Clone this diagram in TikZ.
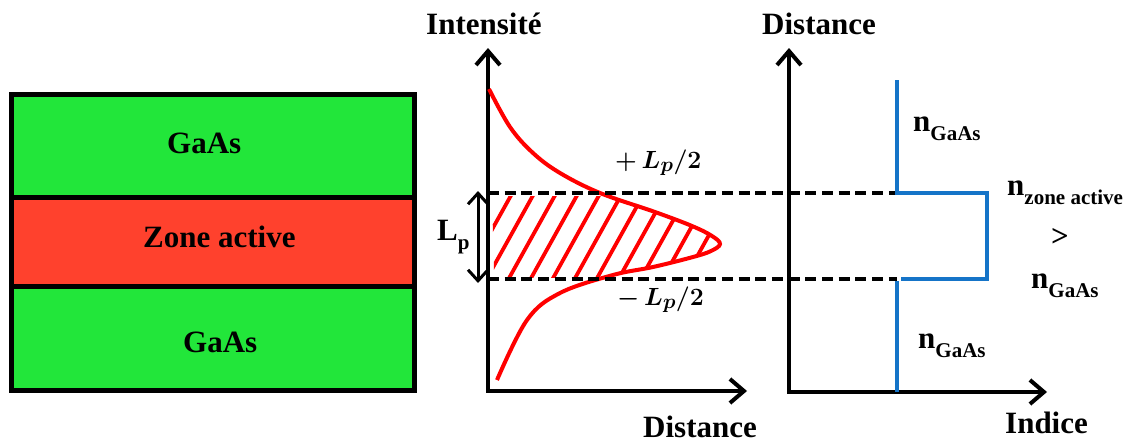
\documentclass[tikz,border=0pt]{standalone}
\usepackage{fontspec}
\setmainfont{Liberation Serif}
\usepackage{amsmath}
\usetikzlibrary{arrows.meta}
\definecolor{gaasgreen}{HTML}{22E63A}
\definecolor{activered}{HTML}{FF412D}
\definecolor{curvered}{HTML}{FF0000}
\definecolor{indexblue}{HTML}{1574C8}
\newcommand\subtxt[1]{\raisebox{-0.3em}{\fontsize{21}{24}\selectfont #1}}
\begin{document}
\begin{tikzpicture}[x=1pt,y=-1pt,
  lbl/.style={font=\fontsize{31}{36}\selectfont\bfseries, inner sep=0pt, anchor=base west},
  mlbl/.style={font=\fontsize{28}{32}\selectfont\boldmath, inner sep=0pt, anchor=base west},
  layer/.style={draw=black, line width=5pt},
  axisline/.style={line width=4pt, line join=miter,
    {Straight Barb[length=14pt,width=24pt,line width=4pt]}-{Straight Barb[length=14pt,width=24pt,line width=4pt]}},
  dashline/.style={line width=3.8pt, dash pattern=on 11pt off 5.7pt},
  curve/.style={draw=curvered, line width=4pt},
  hatch/.style={draw=curvered, line width=3.8pt},
  indexline/.style={draw=indexblue, line width=3.5pt},
  dblarrow/.style={line width=3pt,
    {Straight Barb[length=11pt,width=20pt,line width=3pt]}-{Straight Barb[length=11pt,width=20pt,line width=3pt]}}]
\useasboundingbox (0,0) rectangle (1131,442);

% layer stack
\fill[gaasgreen] (11.5,94.5) rectangle (414.5,197);
\fill[activered] (11.5,197) rectangle (414.5,286);
\fill[gaasgreen] (11.5,286) rectangle (414.5,390);
\draw[layer] (11.5,94.5) rectangle (414.5,390);
\draw[layer] (11.5,197) -- (414.5,197);
\draw[layer] (11.5,286) -- (414.5,286);
\node[lbl] (g1) at (167,153) {GaAs};
\node[lbl] (za) at (143,247) {Zone active};
\node[lbl] (g2) at (183,352) {GaAs};

% intensity plot
\coordinate (iy) at (488,48);
\coordinate (io) at (488,391);
\coordinate (ix) at (747,391);
\draw[axisline] (iy) -- (io) -- (ix);
\node[lbl] (tI) at (426,34) {Intensité};
\node[lbl] (tD1) at (643,437) {Distance};

% hatch
\begin{scope}
\clip (490,196) rectangle (800,277);
\clip plot[smooth,tension=0.6] coordinates {(489,89) (510,127) (533,153) (560,173) (600,193) (655,212) (692,226) (712,236) (720,244) (711,251) (693,257) (653,267) (613,275) (560,293) (527,320) (497,380)} -- cycle;
\foreach \i in {0,...,14} \draw[hatch] ({464+22*\i},280) -- ++(50,-90);
\end{scope}
\draw[curve] plot[smooth,tension=0.6] coordinates {(489,89) (510,127) (533,153) (560,173) (600,193) (655,212) (692,226) (712,236) (720,244) (711,251) (693,257) (653,267) (613,275) (560,293) (527,320) (497,380)};

% dashed levels
\coordinate (d1a) at (488,193);
\coordinate (d1b) at (897,193);
\coordinate (d2a) at (488,279);
\coordinate (d2b) at (897,279);
\draw[dashline] (d1a) -- (d1b);
\draw[dashline] (d2a) -- (d2b);

% Lp arrow
\coordinate (la) at (478,191);
\coordinate (lb) at (478,283);
\draw[dblarrow] (la) -- (lb);
\node[lbl] (Lp) at (437,240) {L\subtxt{p}};
\node[mlbl] (plus) at (615,168) {$+\,L_p/2$};
\node[mlbl] (minus) at (617,305) {$-\,L_p/2$};

% index plot
\coordinate (ny) at (789,48);
\coordinate (no) at (789,392);
\coordinate (nx) at (1047,392);
\draw[axisline] (ny) -- (no) -- (nx);
\node[lbl] (tD2) at (762,34) {Distance};
\node[lbl] (tIn) at (1005,433) {Indice};

\coordinate (b1) at (897,80);
\coordinate (b2) at (897,193);
\coordinate (b3) at (987,193);
\coordinate (b4) at (987,279);
\coordinate (b5) at (901,279);
\coordinate (b6) at (897,281);
\coordinate (b7) at (897,392);
\draw[indexline] (b1) -- (b2) -- (b3) -- (b4) -- (b5);
\draw[indexline] (b6) -- (b7);

\node[lbl] (n1) at (913,131) {n\subtxt{GaAs}};
\node[lbl] (n2) at (1007,195) {n\subtxt{zone active}};
\node[font=\fontsize{31}{36}\selectfont\bfseries, inner sep=0pt] (gt) at (1060,237) {>};
\node[lbl] (n3) at (1031,288) {n\subtxt{GaAs}};
\node[lbl] (n4) at (918,348) {n\subtxt{GaAs}};
\end{tikzpicture}
\end{document}
